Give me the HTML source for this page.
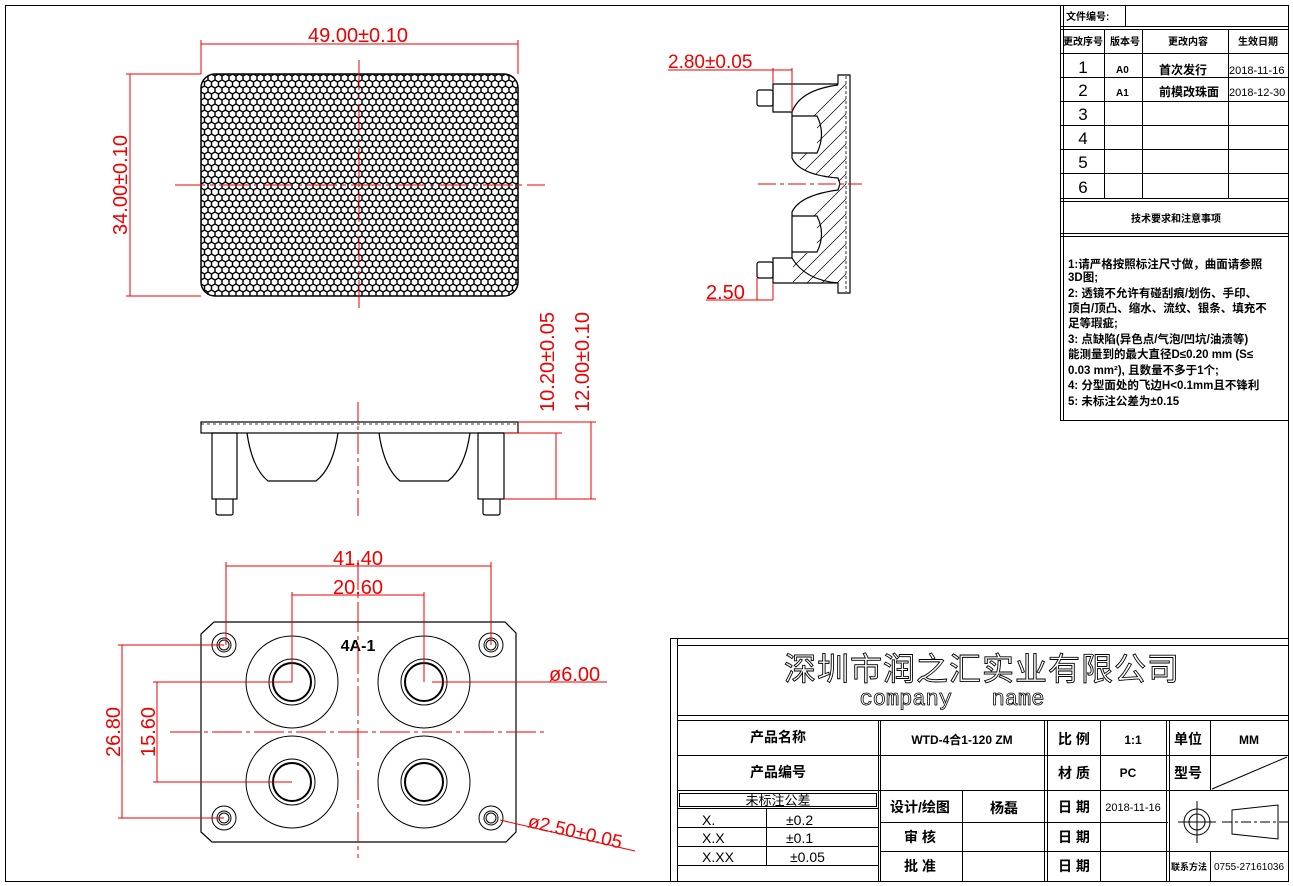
<!DOCTYPE html>
<html><head><meta charset="utf-8"><style>
html,body{margin:0;padding:0;background:#fff;}
svg{display:block;}
.r{fill:#e00;font-family:"Liberation Sans",sans-serif;}
.k{fill:#000;font-family:"Liberation Sans","Noto Sans CJK SC",sans-serif;}
</style></head><body>
<svg width="1293" height="886" viewBox="0 0 1293 886" xmlns="http://www.w3.org/2000/svg">
<defs>
<pattern id="hex" width="7" height="12" patternUnits="userSpaceOnUse" x="201" y="74">
<path d="M0,2 L3.5,0 L7,2 M0,2 V6 L3.5,8 L7,6 V2 M3.5,8 V12 M3.5,12 L0,14 M3.5,12 L7,14" fill="none" stroke="#000" stroke-width="1.4"/>
</pattern>
<clipPath id="tc"><rect x="201" y="74" width="317" height="222" rx="14"/></clipPath>
<clipPath id="sc"><path d="M846,76 V292 H838 V283 H792 V212 Q800,195 838,190 L840,184 L838,178 Q800,175 792,158 V84 H846 Z"/></clipPath>
</defs>
<rect x="0" y="0" width="1293" height="886" fill="#fff"/>
<rect x="5.5" y="5.5" width="1283" height="876" fill="none" stroke="#000" stroke-width="1"/>

<!-- TOP VIEW -->
<g clip-path="url(#tc)"><rect x="201" y="74" width="317" height="222" fill="url(#hex)"/></g>
<rect x="201" y="74" width="317" height="222" rx="14" fill="none" stroke="#000" stroke-width="1.5"/>
<g stroke="#e00" stroke-width="1" fill="none">
<line x1="175" y1="185" x2="545" y2="185" stroke-dasharray="30,5,4,5"/>
<line x1="359" y1="60" x2="359" y2="308" stroke-dasharray="30,5,4,5"/>
<line x1="201" y1="40" x2="201" y2="74"/><line x1="518" y1="40" x2="518" y2="74"/>
<line x1="201" y1="44" x2="518" y2="44"/>
<line x1="126" y1="74" x2="201" y2="74"/><line x1="126" y1="296" x2="201" y2="296"/>
<line x1="130" y1="74" x2="130" y2="296"/>
</g>
<text class="r" x="358" y="42" font-size="20" text-anchor="middle">49.00±0.10</text>
<text class="r" font-size="20" text-anchor="middle" transform="translate(127,185) rotate(-90)">34.00±0.10</text>

<!-- FRONT VIEW -->
<g stroke="#000" stroke-width="1.2" fill="none">
<rect x="201" y="422" width="317" height="11"/>
<line x1="201" y1="424" x2="518" y2="424" stroke-dasharray="3,3" stroke-width="0.8"/>
<rect x="212" y="433" width="25" height="66"/>
<path d="M216,499 V513 Q216,515 219,515 H231 Q233,515 233,513 V499"/>
<rect x="478" y="433" width="26" height="66"/>
<path d="M483,499 V513 Q483,515 486,515 H498 Q500,515 500,513 V499"/>
<path d="M247,433 Q252,468 268,481 H316 Q333,468 338,433"/>
<path d="M379,433 Q384,468 400,481 H448 Q465,468 470,433"/>
</g>
<g stroke="#e00" stroke-width="1" fill="none">
<line x1="358" y1="402" x2="358" y2="516" stroke-dasharray="20,4,4,4"/>
<line x1="518" y1="422" x2="596" y2="422"/>
<line x1="504" y1="433" x2="562" y2="433"/>
<line x1="504" y1="499" x2="596" y2="499"/>
<line x1="556" y1="433" x2="556" y2="499"/>
<line x1="591" y1="422" x2="591" y2="499"/>
</g>
<text class="r" font-size="20" text-anchor="middle" transform="translate(554,362) rotate(-90)">10.20±0.05</text>
<text class="r" font-size="20" text-anchor="middle" transform="translate(589,362) rotate(-90)">12.00±0.10</text>

<!-- SIDE VIEW -->
<g clip-path="url(#sc)" stroke="#000" stroke-width="0.7">
<line x1="790" y1="140" x2="860" y2="70"/><line x1="790" y1="155" x2="860" y2="85"/>
<line x1="800" y1="160" x2="860" y2="100"/><line x1="805" y1="170" x2="860" y2="115"/>
<line x1="810" y1="180" x2="860" y2="130"/><line x1="820" y1="185" x2="860" y2="145"/>
<line x1="830" y1="190" x2="860" y2="160"/><line x1="790" y1="240" x2="860" y2="170"/>
<line x1="790" y1="255" x2="860" y2="185"/><line x1="790" y1="270" x2="860" y2="200"/>
<line x1="790" y1="285" x2="860" y2="215"/><line x1="800" y1="290" x2="860" y2="230"/>
<line x1="815" y1="290" x2="860" y2="245"/><line x1="830" y1="290" x2="860" y2="260"/>
<rect x="792" y="116" width="25" height="37" fill="#fff" stroke="none"/>
<rect x="792" y="216" width="25" height="37" fill="#fff" stroke="none"/>
<rect x="773" y="84" width="20" height="28" fill="#fff" stroke="none"/>
<rect x="773" y="258" width="20" height="25" fill="#fff" stroke="none"/>
</g>
<g stroke="#000" stroke-width="1.2" fill="none">
<path d="M850,75 V293 H838 V283 H773 V258 H792 V212 Q800,195 838,190 L840,184 L838,178 Q800,175 792,158 V112 H773 V84 H838 V75 Z"/>
<line x1="846" y1="76" x2="846" y2="292" stroke-dasharray="3,2" stroke-width="0.8"/>
<rect x="757" y="90" width="16" height="16" rx="2"/>
<rect x="757" y="262" width="16" height="16" rx="2"/>
<path d="M792,116 H817 Q826,134 817,153 H792"/>
<path d="M792,216 H817 Q826,234 817,252 H792"/>
<path d="M792,112 Q800,90 838,85"/>
<path d="M792,258 Q805,280 838,283"/>
</g>
<g stroke="#e00" stroke-width="1" fill="none">
<line x1="758" y1="184" x2="862" y2="184" stroke-dasharray="18,4,4,4"/>
<line x1="668" y1="70" x2="792" y2="70"/>
<line x1="773" y1="68" x2="773" y2="84"/><line x1="792" y1="68" x2="792" y2="112"/>
<line x1="757" y1="278" x2="757" y2="300"/><line x1="773" y1="283" x2="773" y2="300"/>
<line x1="706" y1="300" x2="773" y2="300"/>
</g>
<text class="r" x="668" y="68" font-size="19">2.80±0.05</text>
<text class="r" x="706" y="299" font-size="20">2.50</text>

<!-- BOTTOM VIEW -->
<path d="M214,622 H505 L516,633 V832 L506,842 H212 L201,832 V634 Z" fill="none" stroke="#000" stroke-width="1.2"/>
<g stroke="#000" fill="none" stroke-width="1">
<circle cx="224" cy="645" r="12"/><circle cx="224" cy="645" r="7"/><circle cx="224" cy="645" r="5"/>
<circle cx="491" cy="645" r="12"/><circle cx="491" cy="645" r="7"/><circle cx="491" cy="645" r="5"/>
<circle cx="224" cy="818" r="12"/><circle cx="224" cy="818" r="7"/><circle cx="224" cy="818" r="5"/>
<circle cx="491" cy="818" r="12"/><circle cx="491" cy="818" r="7"/><circle cx="491" cy="818" r="5"/>
<circle cx="292" cy="682" r="46"/><circle cx="292" cy="682" r="23"/><circle cx="292" cy="682" r="19" stroke-width="2"/>
<circle cx="424" cy="682" r="46"/><circle cx="424" cy="682" r="23"/><circle cx="424" cy="682" r="19" stroke-width="2"/>
<circle cx="292" cy="782" r="46"/><circle cx="292" cy="782" r="23"/><circle cx="292" cy="782" r="19" stroke-width="2"/>
<circle cx="424" cy="782" r="46"/><circle cx="424" cy="782" r="23"/><circle cx="424" cy="782" r="19" stroke-width="2"/>
</g>
<text class="k" x="358" y="651" font-size="16" font-weight="bold" text-anchor="middle">4A-1</text>
<g stroke="#e00" stroke-width="1" fill="none">
<line x1="358" y1="560" x2="358" y2="858" stroke-dasharray="30,4,4,4"/>
<line x1="170" y1="732" x2="545" y2="732" stroke-dasharray="30,4,4,4"/>
<line x1="226" y1="562" x2="226" y2="645"/><line x1="491" y1="562" x2="491" y2="645"/>
<line x1="226" y1="566" x2="491" y2="566"/>
<line x1="292" y1="592" x2="292" y2="682"/><line x1="424" y1="592" x2="424" y2="682"/>
<line x1="292" y1="595" x2="424" y2="595"/>
<line x1="118" y1="645" x2="224" y2="645"/><line x1="118" y1="818" x2="224" y2="818"/>
<line x1="122" y1="645" x2="122" y2="818"/>
<line x1="153" y1="682" x2="292" y2="682"/><line x1="153" y1="782" x2="292" y2="782"/>
<line x1="157" y1="682" x2="157" y2="782"/>
<line x1="432" y1="682" x2="607" y2="682"/>
<line x1="500" y1="820" x2="635" y2="851"/>
</g>
<text class="r" x="358" y="565" font-size="20" text-anchor="middle">41.40</text>
<text class="r" x="358" y="594" font-size="20" text-anchor="middle">20.60</text>
<text class="r" font-size="20" text-anchor="middle" transform="translate(120,732) rotate(-90)">26.80</text>
<text class="r" font-size="20" text-anchor="middle" transform="translate(155,732) rotate(-90)">15.60</text>
<text class="r" x="549" y="681" font-size="20">ø6.00</text>
<text class="r" font-size="19" transform="translate(527,827) rotate(13)">ø2.50±0.05</text>

<!-- REVISION TABLE -->
<g stroke="#000" stroke-width="1" fill="none">
<rect x="1060.5" y="5.5" width="228" height="415"/>
<line x1="1063.5" y1="5" x2="1063.5" y2="420"/>
<line x1="1125.5" y1="5" x2="1125.5" y2="26"/>
<line x1="1060" y1="26.5" x2="1288" y2="26.5"/><line x1="1060" y1="29.5" x2="1288" y2="29.5"/>
<line x1="1060" y1="53.5" x2="1288" y2="53.5"/>
<line x1="1060" y1="77.5" x2="1288" y2="77.5"/><line x1="1060" y1="101.5" x2="1288" y2="101.5"/>
<line x1="1060" y1="125.5" x2="1288" y2="125.5"/><line x1="1060" y1="149.5" x2="1288" y2="149.5"/>
<line x1="1060" y1="173.5" x2="1288" y2="173.5"/>
<line x1="1060" y1="198.5" x2="1288" y2="198.5"/><line x1="1060" y1="201.5" x2="1288" y2="201.5"/>
<line x1="1060" y1="233.5" x2="1288" y2="233.5"/><line x1="1060" y1="236.5" x2="1288" y2="236.5"/>
<line x1="1104.5" y1="29" x2="1104.5" y2="198"/><line x1="1142.5" y1="29" x2="1142.5" y2="198"/>
<line x1="1228.5" y1="29" x2="1228.5" y2="198"/>
</g>
<g class="k" font-size="10" font-weight="bold">
<text x="1066" y="20">文件编号:</text>
<text x="1063" y="45">更改序号</text><text x="1110" y="45">版本号</text>
<text x="1168" y="45">更改内容</text><text x="1238" y="45">生效日期</text>
<text x="1116" y="73">A0</text><text x="1116" y="96">A1</text>
<text x="1159" y="74" font-size="12">首次发行</text>
<text x="1159" y="96" font-size="12">前模改珠面</text>
<text x="1229" y="74" font-weight="normal" font-size="11">2018-11-16</text>
<text x="1229" y="96" font-weight="normal" font-size="11">2018-12-30</text>
<text x="1131" y="222">技术要求和注意事项</text>
</g>
<g class="k" font-size="17" text-anchor="middle">
<text x="1083" y="73">1</text><text x="1083" y="96">2</text><text x="1083" y="120">3</text>
<text x="1083" y="144">4</text><text x="1083" y="168">5</text><text x="1083" y="193">6</text>
</g>
<g class="k" font-size="11.5" font-weight="bold">
<text x="1068" y="268">1:请严格按照标注尺寸做，曲面请参照</text>
<text x="1068" y="281">3D图;</text>
<text x="1068" y="297">2: 透镜不允许有碰刮痕/划伤、手印、</text>
<text x="1068" y="312">顶白/顶凸、缩水、流纹、银条、填充不</text>
<text x="1068" y="327">足等瑕疵;</text>
<text x="1068" y="343">3: 点缺陷(异色点/气泡/凹坑/油渍等)</text>
<text x="1068" y="358">能测量到的最大直径D≤0.20 mm (S≤</text>
<text x="1068" y="374">0.03 mm²),  且数量不多于1个;</text>
<text x="1068" y="389">4: 分型面处的飞边H&lt;0.1mm且不锋利</text>
<text x="1068" y="405">5: 未标注公差为±0.15</text>
</g>

<!-- TITLE BLOCK -->
<g stroke="#000" stroke-width="1" fill="none">
<rect x="670.5" y="638.5" width="618" height="243"/>
<line x1="677.5" y1="638" x2="677.5" y2="881"/>
<rect x="677.5" y="645.5" width="611" height="70"/>
<line x1="677" y1="720.5" x2="1288" y2="720.5"/>
<line x1="677" y1="755.5" x2="1168" y2="755.5"/>
<line x1="1168" y1="755.5" x2="1288" y2="755.5"/>
<line x1="677" y1="790.5" x2="1288" y2="790.5"/>
<line x1="880" y1="822.5" x2="1168" y2="822.5"/>
<line x1="880" y1="851.5" x2="1168" y2="851.5"/>
<line x1="1168" y1="851.5" x2="1288" y2="851.5"/>
<rect x="679.5" y="793.5" width="197" height="13"/>
<line x1="677" y1="808.5" x2="878" y2="808.5"/>
<line x1="677" y1="827.5" x2="878" y2="827.5"/>
<line x1="677" y1="846.5" x2="878" y2="846.5"/>
<line x1="677" y1="865.5" x2="878" y2="865.5"/>
<line x1="766.5" y1="808" x2="766.5" y2="865"/>
<line x1="878.5" y1="720" x2="878.5" y2="881"/><line x1="880.5" y1="720" x2="880.5" y2="881"/>
<line x1="962.5" y1="790" x2="962.5" y2="881"/>
<line x1="1044.5" y1="720" x2="1044.5" y2="881"/><line x1="1047.5" y1="720" x2="1047.5" y2="881"/>
<line x1="1100.5" y1="720" x2="1100.5" y2="881"/>
<line x1="1166.5" y1="720" x2="1166.5" y2="881"/><line x1="1169.5" y1="720" x2="1169.5" y2="881"/>
<line x1="1210.5" y1="720" x2="1210.5" y2="790"/>
<line x1="1210.5" y1="851" x2="1210.5" y2="881"/>
<line x1="1212" y1="789" x2="1287" y2="757"/>
<circle cx="1197" cy="822" r="13"/><circle cx="1197" cy="822" r="8"/>
<line x1="1178" y1="822" x2="1216" y2="822"/><line x1="1197" y1="801" x2="1197" y2="843"/>
<path d="M1232,810 L1278,805 V839 L1232,834 Z"/>
<line x1="1222" y1="822" x2="1288" y2="822" stroke-dasharray="10,3,3,3"/>
</g>
<text x="982" y="680" font-size="32" text-anchor="middle" fill="#fff" stroke="#000" stroke-width="0.9" font-family="Noto Sans CJK SC,sans-serif" letter-spacing="1">深圳市润之汇实业有限公司</text>
<text x="952" y="705" font-size="22" text-anchor="middle" fill="#fff" stroke="#000" stroke-width="0.8" font-family="Liberation Mono,monospace" xml:space="preserve">company   name</text>
<g class="k" font-size="14" font-weight="bold" text-anchor="middle">
<text x="778" y="742">产品名称</text>
<text x="778" y="777">产品编号</text>
<text x="778" y="805" font-weight="normal" font-size="13">未标注公差</text>
<text x="962" y="744" font-size="12">WTD-4合1-120 ZM</text>
<text x="1074" y="744">比 例</text><text x="1133" y="744" font-size="12">1:1</text>
<text x="1188" y="744">单位</text><text x="1249" y="744" font-size="12">MM</text>
<text x="1074" y="778">材 质</text><text x="1128" y="777" font-size="12">PC</text>
<text x="1188" y="778">型号</text>
<text x="920" y="812">设计/绘图</text><text x="1004" y="813">杨磊</text>
<text x="920" y="842">审  核</text>
<text x="920" y="871">批  准</text>
<text x="1074" y="812">日 期</text><text x="1074" y="842">日 期</text><text x="1074" y="871">日 期</text>
<text x="1133" y="811" font-size="11" font-weight="normal">2018-11-16</text>
<text x="1189" y="870" font-size="9">联系方法</text>
<text x="1249" y="870" font-size="10" font-weight="normal">0755-27161036</text>
</g>
<g class="k" font-size="14">
<text x="702" y="825">X.</text><text x="786" y="825">±0.2</text>
<text x="702" y="843">X.X</text><text x="786" y="843">±0.1</text>
<text x="702" y="862">X.XX</text><text x="790" y="862">±0.05</text>
</g>
</svg>
</body></html>
